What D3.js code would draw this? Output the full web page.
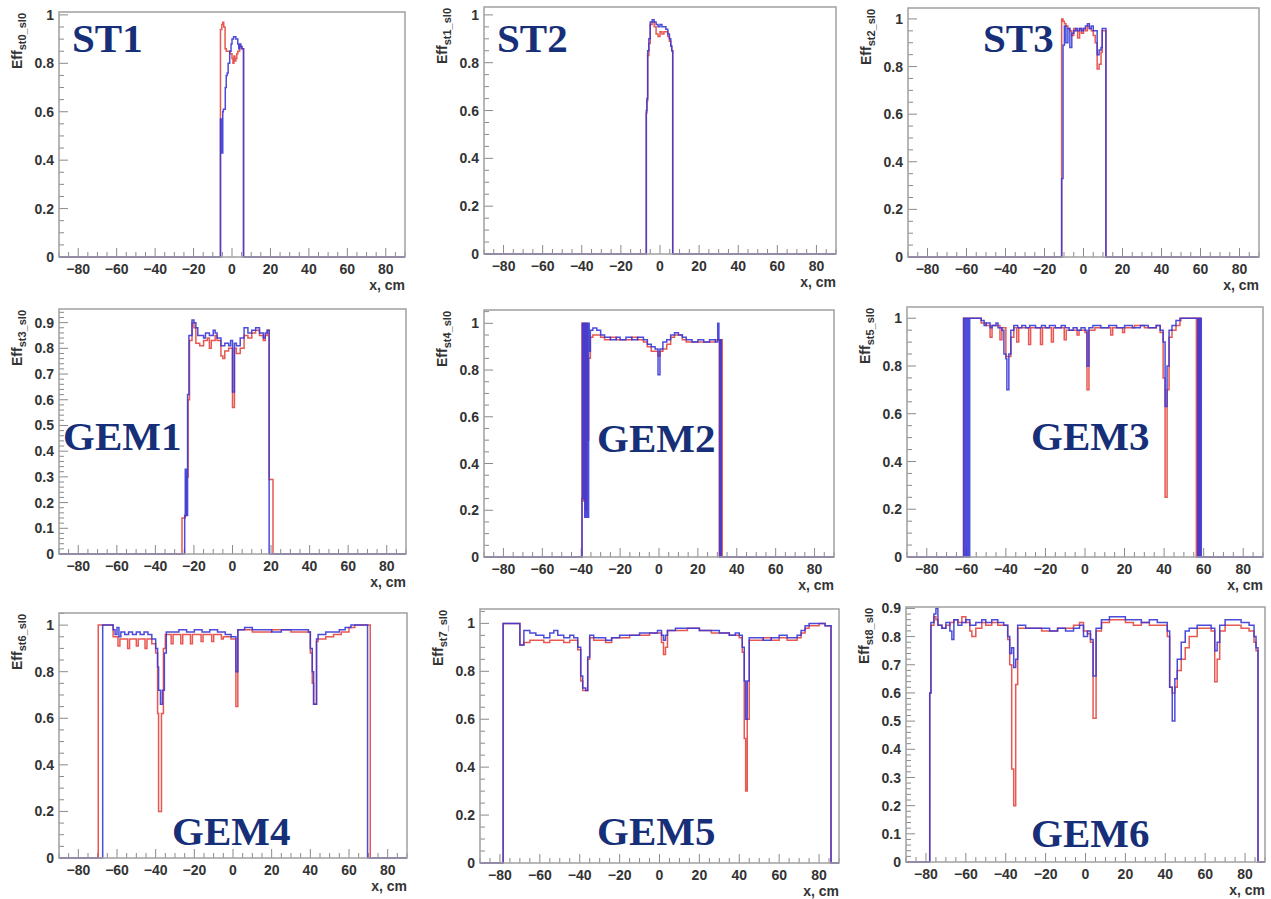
<!DOCTYPE html>
<html>
<head>
<meta charset="utf-8">
<script src="https://cdn.jsdelivr.net/npm/d3@7"></script>
<style>
  body { margin: 0; background: #fff; }
  svg { display: block; }
  .tick-label { font-family: "Liberation Sans", Arial, sans-serif; font-weight: bold; font-size: 14px; fill: #333; }
  .ytitle { font-family: "Liberation Sans", Arial, sans-serif; font-weight: bold; font-size: 14px; fill: #333; }
  .det { font-family: "Liberation Serif", "Times New Roman", serif; font-weight: bold; font-size: 41px; fill: #162f78; }
  .frame { fill: none; stroke: #a0a0a0; stroke-width: 1.5; }
  .tk { stroke: #8a8a8a; stroke-width: 1; }
  .hist { fill: none; stroke-width: 1.5; }
</style>
</head>
<body>
<script>
// efficiency vs x, cm  (bin start, value)  red = first set, blue = second set
var st1Red = [[-90,0],[-6,0.94],[-5.3,0.96],[-4.8,0.97],[-4.3,0.95],[-3.6,0.86],[-3,0.85],[-2,0.85],[-1,0.84],[0,0.82],[0.5,0.8],[1,0.83],[1.5,0.81],[2,0.82],[2.5,0.84],[3,0.85],[4,0.87],[5,0.86],[6,0]];
var st1Blue = [[-90,0],[-6,0.57],[-5.7,0.43],[-5.4,0.57],[-5.1,0.43],[-4.8,0.6],[-4.5,0.61],[-3.5,0.7],[-3,0.75],[-2.5,0.76],[-2,0.8],[-1.2,0.85],[-0.5,0.88],[0,0.9],[0.8,0.91],[2,0.9],[3,0.88],[3.5,0.86],[4,0.88],[4.6,0.87],[5.2,0.86],[6,0]];

var st2Red = [[-90,0],[-7,0.59],[-6.7,0.64],[-6.3,0.83],[-5.7,0.88],[-5,0.96],[-4,0.97],[-3,0.95],[-2,0.92],[-1,0.91],[0,0.93],[1,0.92],[2,0.93],[3,0.93],[4,0.91],[4.8,0.89],[5.5,0.87],[6,0.85],[6.5,0]];
var st2Blue = [[-90,0],[-7,0.6],[-6.7,0.65],[-6.3,0.85],[-5.7,0.9],[-5,0.97],[-4,0.98],[-3,0.97],[-2,0.96],[-1,0.95],[0,0.96],[1,0.95],[2,0.95],[3,0.94],[4,0.92],[4.8,0.9],[5.5,0.87],[6,0.85],[6.5,0]];

var st3Red = [[-90,0],[-11.2,1.0],[-10.5,0.99],[-9.8,0.98],[-9,0.97],[-8,0.96],[-7,0.95],[-6,0.93],[-5,0.96],[-4,0.95],[-3,0.92],[-2,0.96],[-1,0.94],[0,0.96],[1,0.95],[2,0.97],[3,0.96],[4,0.95],[5,0.93],[6,0.9],[7,0.79],[8,0.81],[9,0.86],[9.6,0.95],[11.5,0]];
var st3Blue = [[-90,0],[-11.2,0.33],[-10.5,0.89],[-9.8,0.97],[-9,0.9],[-8,0.96],[-7,0.88],[-6,0.94],[-5,0.95],[-4,0.96],[-3,0.95],[-2,0.96],[-1,0.95],[0,0.96],[1,0.97],[2,0.98],[3,0.96],[4,0.97],[5,0.95],[6,0.95],[7,0.85],[8,0.87],[9,0.88],[9.6,0.96],[11.5,0]];

var gem1Red = [[-90,0],[-26.2,0.14],[-24.5,0.15],[-24,0.3],[-23,0.6],[-22.3,0.83],[-21,0.9],[-20,0.88],[-19,0.82],[-17,0.81],[-15,0.83],[-13,0.84],[-12,0.8],[-11,0.83],[-9,0.85],[-8,0.83],[-6,0.77],[-5,0.76],[-4,0.79],[-2,0.8],[-1,0.8],[0,0.57],[1,0.8],[2,0.78],[4,0.8],[6,0.85],[8,0.84],[10,0.86],[12,0.87],[14,0.85],[16,0.83],[17,0.85],[18,0.87],[19,0.29],[21,0]];
var gem1Blue = [[-90,0],[-24.8,0.15],[-24.5,0.33],[-24.2,0.15],[-23.9,0.33],[-23.6,0.15],[-23.3,0.62],[-22.6,0.85],[-21,0.91],[-20,0.9],[-19,0.88],[-18,0.85],[-16,0.85],[-15,0.84],[-14,0.86],[-12,0.85],[-10,0.87],[-9,0.86],[-8,0.84],[-6,0.81],[-4,0.82],[-2,0.81],[-1,0.83],[0,0.63],[1,0.82],[2,0.81],[4,0.84],[6,0.88],[8,0.86],[10,0.87],[12,0.88],[14,0.86],[16,0.84],[17,0.86],[18,0.87],[19,0]];

var gem2Red = [[-90,0],[-39.6,1.0],[-39.2,0.24],[-38.8,1.0],[-38.4,0.24],[-38,1.0],[-37.6,0.2],[-37.2,1.0],[-36.8,0.5],[-36.2,0.85],[-35.3,0.94],[-34,0.95],[-30,0.94],[-28,0.93],[-25,0.94],[-22,0.93],[-14,0.94],[-11,0.93],[-8,0.92],[-6,0.9],[-4,0.88],[-0.5,0.86],[0.5,0.88],[2,0.89],[4,0.91],[6,0.94],[8,0.95],[12,0.93],[14,0.92],[29,0.93],[31,0],[31.4,0.93],[31.8,0],[32.2,0.93],[32.5,0]];
var gem2Blue = [[-90,0],[-39.6,0.25],[-39.4,1.0],[-39,0.25],[-38.6,1.0],[-38.2,0.17],[-37.8,1.0],[-37.4,0.17],[-37,1.0],[-36.6,0.17],[-36.2,1.0],[-35.9,0.88],[-35.3,0.97],[-34,0.98],[-32,0.97],[-30,0.95],[-28,0.94],[-25,0.93],[-22,0.94],[-20,0.93],[-17,0.94],[-14,0.93],[-11,0.94],[-8,0.93],[-6,0.91],[-4,0.9],[-2,0.89],[-0.5,0.78],[0.5,0.89],[2,0.92],[4,0.93],[6,0.95],[8,0.96],[10,0.95],[12,0.94],[14,0.93],[17,0.92],[20,0.93],[23,0.92],[26,0.93],[29,0.92],[30.2,1.0],[30.8,0.93],[31.2,0],[31.6,0.93],[32,0],[32.5,0]];

var gem3Red = [[-90,0],[-61.5,1.0],[-52.5,0.98],[-50,0.97],[-48,0.92],[-47,0.97],[-43,0.91],[-42,0.96],[-40,0.84],[-38.5,0.84],[-37.5,0.92],[-36,0.96],[-34.5,0.9],[-33.5,0.96],[-28.5,0.89],[-27.5,0.96],[-22.5,0.89],[-21.5,0.96],[-17,0.9],[-16,0.96],[-10.5,0.91],[-9.5,0.95],[-4,0.93],[-3,0.95],[0,0.94],[1,0.7],[2,0.95],[5,0.96],[13,0.93],[14,0.96],[19,0.94],[20,0.96],[25,0.97],[30,0.96],[36,0.97],[38,0.94],[39.5,0.75],[40.5,0.25],[41.5,0.7],[42.5,0.92],[44,0.95],[46,0.97],[48,0.99],[48.5,1.0],[56.3,0],[56.8,1.0],[57.3,0],[57.8,1.0],[58.3,0],[58.8,0]];
var gem3Blue = [[-90,0],[-61.3,1.0],[-60.8,0],[-60.3,1.0],[-59.8,0],[-59.3,1.0],[-58.8,0],[-58.3,1.0],[-52.5,0.99],[-51,0.97],[-50,0.98],[-48,0.96],[-47,0.97],[-45,0.98],[-44,0.96],[-42,0.95],[-41,0.85],[-40,0.83],[-39.5,0.7],[-38.5,0.85],[-37.5,0.95],[-36,0.97],[-34,0.96],[-32,0.97],[-30,0.96],[-28,0.97],[-25,0.96],[-22,0.97],[-20,0.96],[-18,0.97],[-15,0.96],[-12,0.97],[-10,0.96],[-8,0.95],[-6,0.96],[-4,0.95],[-2,0.96],[0,0.95],[1,0.8],[2,0.96],[4,0.97],[8,0.96],[12,0.97],[16,0.96],[20,0.97],[24,0.96],[28,0.97],[32,0.96],[36,0.97],[38,0.95],[39.5,0.9],[40.5,0.63],[41.5,0.8],[42.5,0.95],[44,0.97],[46,0.99],[48,1.0],[57,0],[57.5,1.0],[58,0],[58.5,1.0],[58.8,0]];

var gem4Red = [[-90,0],[-69.7,1.0],[-62,0.95],[-59.5,0.91],[-58.5,0.94],[-54.5,0.9],[-53.5,0.94],[-50,0.91],[-49,0.94],[-45.5,0.9],[-44.5,0.94],[-42,0.92],[-40,0.88],[-39,0.62],[-38.5,0.2],[-37,0.62],[-36,0.9],[-35,0.96],[-32,0.92],[-31,0.96],[-27,0.92],[-26,0.96],[-22,0.92],[-21,0.96],[-16.5,0.93],[-15.5,0.96],[-11,0.93],[-10,0.96],[-6,0.94],[-5,0.95],[-1,0.94],[1.5,0.65],[2.5,0.98],[10,0.97],[20,0.98],[30,0.97],[40,0.88],[41,0.75],[41.7,0.66],[43.2,0.93],[44,0.94],[48,0.95],[52,0.96],[56,0.97],[60,0.99],[63,1.0],[71,0]];
var gem4Blue = [[-90,0],[-67.4,1.0],[-62,0.98],[-61,0.96],[-60,0.99],[-59,0.95],[-58,0.97],[-56,0.96],[-54,0.97],[-52,0.96],[-50,0.97],[-48,0.96],[-46,0.97],[-44,0.96],[-42,0.94],[-40,0.9],[-39,0.82],[-38.5,0.72],[-37.5,0.66],[-36.5,0.72],[-35.5,0.88],[-34.5,0.97],[-28,0.98],[-24,0.97],[-20,0.98],[-16,0.97],[-12,0.98],[-8,0.97],[-4,0.96],[-1,0.95],[1.5,0.8],[2.5,0.98],[6,0.99],[10,0.98],[20,0.97],[25,0.98],[39,0.97],[40,0.9],[41,0.8],[41.7,0.66],[43.2,0.94],[44,0.96],[48,0.97],[55,0.98],[58,0.99],[61,1.0],[69.6,0]];

var gem5Red = [[-90,0],[-78.4,1.0],[-70,0.91],[-68,0.92],[-65,0.93],[-58,0.92],[-55,0.93],[-48,0.92],[-45,0.93],[-41,0.89],[-39.5,0.76],[-38.5,0.72],[-36,0.85],[-35,0.94],[-33,0.93],[-27,0.92],[-24,0.94],[-15,0.95],[-5,0.96],[1,0.92],[2,0.87],[3,0.9],[4,0.97],[14,0.98],[20,0.97],[26,0.96],[35,0.95],[40,0.94],[41.5,0.88],[42.5,0.52],[43.2,0.3],[44,0.6],[45,0.93],[52,0.94],[56,0.93],[60,0.94],[64,0.93],[69,0.94],[71,0.96],[73,0.98],[75,0.99],[80,1.0],[83,0.99],[86,0]];
var gem5Blue = [[-90,0],[-78.4,1.0],[-70,0.91],[-68,0.97],[-65,0.96],[-62,0.95],[-58,0.94],[-55,0.96],[-53,0.97],[-51,0.95],[-48,0.94],[-45,0.95],[-43,0.94],[-41,0.9],[-39.5,0.78],[-38.5,0.73],[-37,0.72],[-36,0.86],[-35,0.95],[-33,0.94],[-27,0.93],[-24,0.94],[-20,0.95],[-10,0.96],[-1,0.97],[1,0.95],[2,0.93],[3,0.95],[4,0.97],[8,0.98],[20,0.97],[30,0.96],[35,0.95],[38,0.96],[40,0.95],[41.5,0.9],[42.5,0.76],[43.2,0.6],[44,0.76],[45,0.94],[52,0.93],[56,0.94],[60,0.95],[64,0.94],[69,0.95],[71,0.97],[73,0.99],[75,1.0],[83,0.99],[86,0]];

var gem6Red = [[-90,0],[-78.1,0.6],[-77.5,0.84],[-76,0.87],[-75,0.86],[-74,0.84],[-72,0.83],[-70,0.84],[-68,0.85],[-66,0.86],[-64,0.85],[-62,0.87],[-60,0.85],[-58,0.82],[-57,0.8],[-55,0.83],[-52,0.85],[-50,0.84],[-47,0.85],[-44,0.84],[-39,0.79],[-38,0.7],[-37,0.33],[-36,0.2],[-35,0.63],[-34,0.83],[-22,0.82],[-14,0.83],[-6,0.84],[-3,0.85],[-1,0.82],[1,0.81],[2.5,0.78],[3.8,0.51],[5.3,0.82],[8,0.85],[12,0.86],[20,0.85],[24,0.84],[28,0.85],[32,0.84],[41,0.8],[42.2,0.62],[43.5,0.6],[44.8,0.62],[46,0.68],[48,0.72],[50,0.76],[52,0.8],[56,0.83],[63,0.82],[64.8,0.64],[66,0.72],[67.3,0.82],[70,0.84],[78,0.83],[82,0.82],[84.5,0.78],[85.5,0.75],[86.5,0]];
var gem6Blue = [[-90,0],[-78.1,0.6],[-77.5,0.85],[-76,0.88],[-75,0.9],[-74,0.84],[-72,0.83],[-70,0.85],[-68,0.82],[-67,0.79],[-66,0.86],[-64,0.84],[-62,0.85],[-60,0.86],[-58,0.84],[-55,0.85],[-52,0.86],[-50,0.85],[-47,0.86],[-44,0.85],[-41,0.84],[-39,0.8],[-38,0.74],[-37,0.76],[-36,0.69],[-35,0.72],[-34,0.84],[-30,0.83],[-18,0.82],[-14,0.83],[-10,0.82],[-6,0.83],[-3,0.84],[-1,0.8],[1,0.82],[2.5,0.79],[3.8,0.66],[5.3,0.83],[8,0.86],[12,0.87],[20,0.86],[28,0.85],[32,0.86],[36,0.85],[41,0.82],[42.2,0.62],[43.5,0.5],[44.8,0.65],[46,0.72],[48,0.78],[50,0.82],[52,0.83],[56,0.84],[63,0.83],[64.8,0.75],[66,0.78],[67.3,0.84],[70,0.86],[78,0.85],[82,0.84],[84.5,0.8],[85.5,0.76],[86.5,0]];

var names = ["ST1", "ST2", "ST3", "GEM1", "GEM2", "GEM3", "GEM4", "GEM5", "GEM6"];
var subs = ["st0_sl0", "st1_sl0", "st2_sl0", "st3_sl0", "st4_sl0", "st5_sl0", "st6_sl0", "st7_sl0", "st8_sl0"];
var yMax = [1.012, 1.033, 1.046, 0.953, 1.057, 1.047, 1.052, 1.06, 0.905];
var yStep = [0.2, 0.2, 0.2, 0.1, 0.2, 0.2, 0.2, 0.2, 0.1];
var xTicks = [-80, -60, -40, -20, 0, 20, 40, 60, 80];
var reds = [st1Red, st2Red, st3Red, gem1Red, gem2Red, gem3Red, gem4Red, gem5Red, gem6Red];
var blues = [st1Blue, st2Blue, st3Blue, gem1Blue, gem2Blue, gem3Blue, gem4Blue, gem5Blue, gem6Blue];

// layout (pixels): frame left, right, top, bottom, label x, label baseline
var frames = [
  {l: 59, r: 405, t: 12, b: 257, lx: 72, ly: 52},
  {l: 484, r: 836, t: 7, b: 254, lx: 497, ly: 52},
  {l: 908, r: 1259, t: 8, b: 257, lx: 983, ly: 52},
  {l: 59, r: 406, t: 309, b: 554, lx: 63, ly: 450},
  {l: 484, r: 834, t: 310, b: 557, lx: 597, ly: 452},
  {l: 907, r: 1263, t: 307, b: 557, lx: 1031, ly: 450},
  {l: 59, r: 407, t: 613, b: 858, lx: 172, ly: 845},
  {l: 480, r: 839, t: 609, b: 863, lx: 597, ly: 845},
  {l: 906, r: 1265, t: 607, b: 862, lx: 1031, ly: 847}
];

var svg = d3.select("body").append("svg")
  .attr("width", 1271)
  .attr("height", 899);

var fmt = function(d) { return String(+d.toFixed(2)); };

frames.forEach(function(f, i) {
  var x = d3.scaleLinear().domain([-90, 90]).range([f.l, f.r]);
  var y = d3.scaleLinear().domain([0, yMax[i]]).range([f.b, f.t]);
  var g = svg.append("g");

  g.append("clipPath").attr("id", "clip" + i)
    .append("rect")
    .attr("x", f.l).attr("y", f.t - 2)
    .attr("width", f.r - f.l).attr("height", f.b - f.t + 3);

  // minor + major ticks, ROOT style (inside the frame)
  var st = yStep[i];
  var minor = st === 0.2 ? 0.05 : 0.02;
  d3.range(0, yMax[i] + 1e-9, minor).forEach(function(v) {
    var maj = Math.abs(v / st - Math.round(v / st)) < 1e-6;
    g.append("line").attr("class", "tk")
      .attr("x1", f.l).attr("x2", f.l + (maj ? 9 : 5))
      .attr("y1", y(v)).attr("y2", y(v));
  });
  d3.range(-90, 90.01, 5).forEach(function(v) {
    var maj = v % 20 === 0;
    g.append("line").attr("class", "tk")
      .attr("x1", x(v)).attr("x2", x(v))
      .attr("y1", f.b).attr("y2", f.b - (maj ? 9 : 5));
  });

  g.selectAll(".ylab").data(d3.range(0, yMax[i] + 1e-9, st))
    .enter().append("text")
    .attr("class", "tick-label")
    .attr("x", f.l - 5)
    .attr("y", function(d) { return y(d); })
    .attr("dy", "0.36em")
    .attr("text-anchor", "end")
    .text(fmt);

  g.selectAll(".xlab").data(xTicks)
    .enter().append("text")
    .attr("class", "tick-label")
    .attr("x", function(d) { return x(d); })
    .attr("y", f.b + 17)
    .attr("text-anchor", "middle")
    .text(function(d) { return d3.format("")(d); });

  g.append("text")
    .attr("class", "tick-label")
    .attr("x", f.r)
    .attr("y", f.b + 33)
    .attr("text-anchor", "end")
    .text("x, cm");

  var yt = g.append("text")
    .attr("class", "ytitle")
    .attr("transform", "translate(" + (f.l - 37) + "," + (f.t + 1) + ") rotate(-90)")
    .attr("text-anchor", "end");
  yt.append("tspan").text("Eff");
  yt.append("tspan").attr("dy", 4).style("font-size", "11px").text(subs[i]);

  // histograms as steps
  var line = d3.line()
    .x(function(d) { return x(d[0]); })
    .y(function(d) { return y(d[1]); })
    .curve(d3.curveStepAfter);

  var plot = g.append("g").attr("clip-path", "url(#clip" + i + ")");
  [reds[i], blues[i]].forEach(function(s, k) {
    var pts = s.concat([[90, s[s.length - 1][1]]]);
    plot.append("path")
      .datum(pts)
      .attr("class", "hist")
      .attr("stroke", k === 0 ? "#e4463f" : "#3838d6")
      .attr("stroke-opacity", 0.9)
      .attr("d", line);
  });

  g.append("rect").attr("class", "frame")
    .attr("x", f.l).attr("y", f.t)
    .attr("width", f.r - f.l).attr("height", f.b - f.t);

  g.append("text")
    .attr("class", "det")
    .attr("x", f.lx)
    .attr("y", f.ly)
    .text(names[i]);
});
</script>
</body>
</html>
